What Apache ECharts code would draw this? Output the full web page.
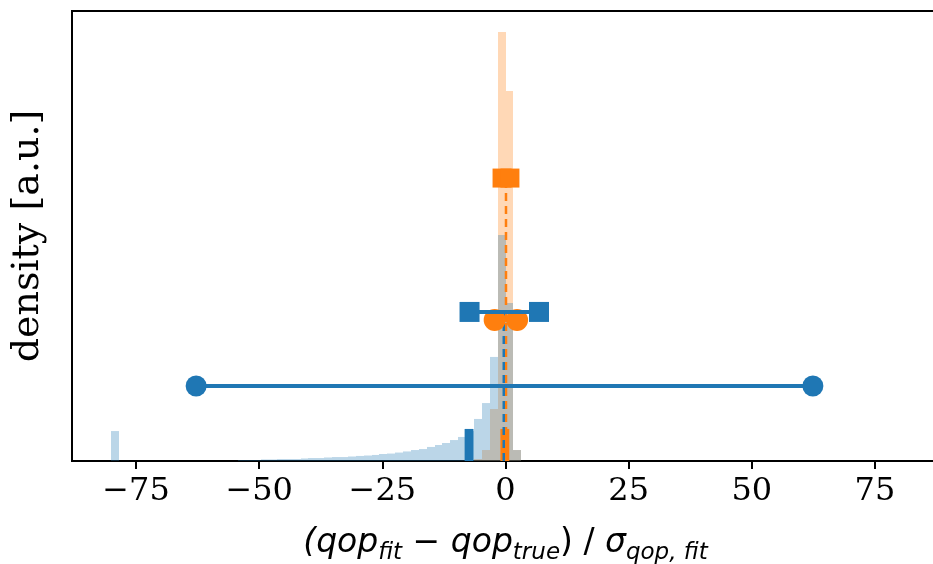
<!DOCTYPE html>
<html>
<head>
<meta charset="utf-8">
<script src="https://cdn.jsdelivr.net/npm/echarts@6/dist/echarts.min.js"></script>
<style>
  html, body { margin: 0; padding: 0; background: #ffffff; }
  #chart { width: 933px; height: 564px; }
</style>
</head>
<body>
<div id="chart"></div>
<script>
// Histogram binning: 100 equal bins over [-80, 80]
const BIN_START = -80;
const BIN_WIDTH = 1.6;

// x tick positions
const xTicks = [-75, -50, -25, 0, 25, 50, 75];

// Density per bin for the wide (blue) pull distribution, starting at bin 0
const blueFirstBin = 0;
const blueDensity = [
  0.0213, 0, 0, 0, 0, 0, 0, 0, 0, 0,
  0, 0, 0, 0, 0, 0, 0.0007, 0.0007, 0.0007, 0.0011,
  0.0011, 0.0014, 0.0014, 0.0014, 0.0018, 0.0021, 0.0021, 0.0025, 0.0028, 0.0028,
  0.0032, 0.0036, 0.0039, 0.0043, 0.0050, 0.0053, 0.0060, 0.0068, 0.0078, 0.0085,
  0.0100, 0.0114, 0.0128, 0.0149, 0.0171, 0.0213, 0.0299, 0.0412, 0.0740, 0.1607,
  0.1124, 0.0078
];

// Density per bin for the narrow (orange) pull distribution, starting at bin 46
const orangeFirstBin = 46;
const orangeDensity = [0.0014, 0.0078, 0.0370, 0.3051, 0.2631, 0.0078];

// Summary statistics drawn on top of the histograms
const blueMean = -0.35;
const blueMeanLevel = 0.1060;
const blueCoreRange = [-7.3, 6.8];
const blueCoreLevel = 0.1060;
const blueStdRange = [-62.8, 62.4];
const blueStdLevel = 0.0533;
const blueTick = { center: -7.4, width: 1.8, height: 0.0228 };

const orangeMean = 0.1;
const orangeMeanLevel = 0.2012;
const orangeCoreRange = [-0.7, 0.9];
const orangeCoreLevel = 0.2012;
const orangeStdRange = [-2.2, 2.35];
const orangeStdLevel = 0.1003;
const orangeTick = { center: -0.14, width: 1.8, height: 0.0228 };

const BLUE = '#1f77b4';
const ORANGE = '#ff7f0e';

function histSeries(firstBin, values, fill, z) {
  const data = values.map((v, i) => [
    BIN_START + (firstBin + i) * BIN_WIDTH,
    BIN_START + (firstBin + i + 1) * BIN_WIDTH,
    v
  ]).filter(d => d[2] > 0);
  return {
    type: 'custom',
    z: z,
    silent: true,
    data: data,
    encode: { x: [0, 1], y: 2 },
    renderItem(params, api) {
      const p0 = api.coord([api.value(0), api.value(2)]);
      const p1 = api.coord([api.value(1), 0]);
      const x0 = Math.round(p0[0]);
      const x1 = Math.round(p1[0]);
      return {
        type: 'rect',
        shape: { x: x0, y: p0[1], width: x1 - x0, height: p1[1] - p0[1] },
        style: { fill: fill }
      };
    }
  };
}

function tickBarSeries(bar, style, z) {
  return {
    type: 'custom',
    z: z,
    silent: true,
    data: [[bar.center - bar.width / 2, bar.center + bar.width / 2, bar.height]],
    encode: { x: [0, 1], y: 2 },
    renderItem(params, api) {
      const p0 = api.coord([api.value(0), api.value(2)]);
      const p1 = api.coord([api.value(1), 0]);
      return {
        type: 'rect',
        shape: { x: p0[0], y: p0[1], width: p1[0] - p0[0], height: p1[1] - p0[1] },
        style: style
      };
    }
  };
}

function rangeSeries(range, level, color, symbol, size, z) {
  return {
    type: 'line',
    z: z,
    silent: true,
    data: [[range[0], level], [range[1], level]],
    symbol: symbol,
    symbolSize: size,
    itemStyle: { color: color, opacity: 1 },
    lineStyle: { color: color, width: 4 }
  };
}

function meanSeries(x, level, color, z) {
  return {
    type: 'line',
    z: z,
    silent: true,
    data: [[x, 0], [x, level]],
    symbol: 'none',
    lineStyle: { color: color, width: 2.5, type: [8, 5] }
  };
}

const chart = echarts.init(document.getElementById('chart'), null, { renderer: 'canvas' });

const mathFont = 'DejaVu Sans';
chart.setOption({
  animation: false,
  backgroundColor: '#ffffff',
  grid: {
    left: 72, right: -6, top: 11, bottom: 103,
    containLabel: false,
    outerBoundsMode: 'none',
    show: true, borderColor: '#000000', borderWidth: 2, backgroundColor: 'transparent'
  },
  xAxis: {
    type: 'value',
    min: -88,
    max: 88,
    splitLine: { show: false },
    axisLine: { show: true, onZero: false, lineStyle: { color: '#000', width: 2 } },
    axisTick: { show: true, length: 8, lineStyle: { color: '#000', width: 2 }, customValues: xTicks },
    axisLabel: {
      customValues: xTicks,
      margin: 15,
      color: '#000',
      fontFamily: 'DejaVu Serif',
      fontSize: 32,
      formatter: v => String(v).replace('-', '\u2212')
    },
    name: '{it|(qop}{sub|fit}{rm| \u2212 }{it|qop}{sub|true}{rm|) / }{it|\u03c3}{sub|qop, fit}',
    nameLocation: 'middle',
    nameGap: 60,
    nameTextStyle: {
      color: '#000',
      rich: {
        it: { fontFamily: mathFont, fontStyle: 'italic', fontSize: 33, lineHeight: 44, color: '#000' },
        rm: { fontFamily: mathFont, fontSize: 33, lineHeight: 44, color: '#000' },
        sub: { fontFamily: mathFont, fontStyle: 'italic', fontSize: 23, lineHeight: 44, verticalAlign: 'bottom', color: '#000' }
      }
    }
  },
  yAxis: {
    type: 'value',
    min: 0,
    max: 0.32,
    splitLine: { show: false },
    axisTick: { show: false },
    axisLabel: { show: false },
    axisLine: { show: true, onZero: false, lineStyle: { color: '#000', width: 2 } },
    name: 'density [a.u.]',
    nameLocation: 'middle',
    nameGap: 25,
    nameTextStyle: { color: '#000', fontFamily: 'DejaVu Serif', fontSize: 38 }
  },
  series: [
    histSeries(orangeFirstBin, orangeDensity, 'rgba(255,127,14,0.3)', 2),
    histSeries(blueFirstBin, blueDensity, 'rgba(31,119,180,0.3)', 3),
    tickBarSeries(blueTick, { fill: BLUE }, 4),
    tickBarSeries(orangeTick, { fill: ORANGE }, 4),
    meanSeries(orangeMean, orangeMeanLevel, ORANGE, 5),
    meanSeries(blueMean, blueMeanLevel, BLUE, 6),
    rangeSeries(orangeStdRange, orangeStdLevel, ORANGE, 'circle', 22, 7),
    rangeSeries(blueCoreRange, blueCoreLevel, BLUE, 'rect', 20, 8),
    rangeSeries(blueStdRange, blueStdLevel, BLUE, 'circle', 21, 8),
    rangeSeries(orangeCoreRange, orangeCoreLevel, ORANGE, 'rect', 19, 9)
  ]
});
</script>
</body>
</html>
